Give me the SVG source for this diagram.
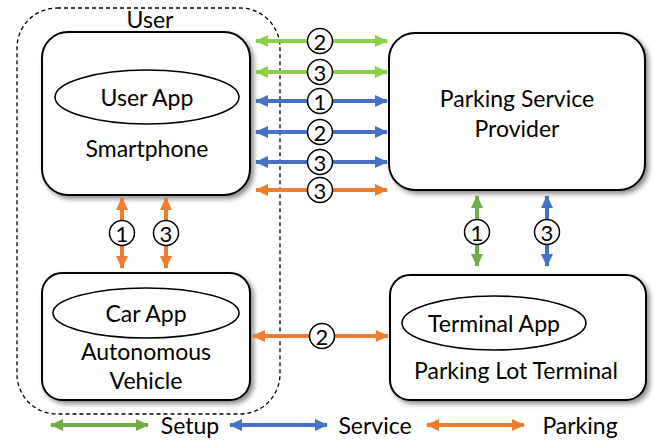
<svg xmlns="http://www.w3.org/2000/svg" width="665" height="440" viewBox="0 0 665 440">
<style>
  text { font-family: Lato, "Liberation Sans", sans-serif; fill: #000; text-anchor: middle; dominant-baseline: central; }
  .t { font-size: 23px; }
  .n { font-size: 22px; }
  .box { fill: #fff; stroke: #000; stroke-width: 2; filter: url(#sh); }
  .ell { fill: #fff; stroke: #000; stroke-width: 1.6; }
  .num { fill: #fff; stroke: #000; stroke-width: 1.5; }
  .g1 { stroke: #8CD04A; stroke-width: 4; fill: none; marker-start: url(#ag1); marker-end: url(#ag1); }
  .g2 { stroke: #70AD47; stroke-width: 4; fill: none; marker-start: url(#ag2); marker-end: url(#ag2); }
  .b { stroke: #4472C4; stroke-width: 4; fill: none; marker-start: url(#ab); marker-end: url(#ab); }
  .o { stroke: #ED7D31; stroke-width: 4; fill: none; marker-start: url(#ao); marker-end: url(#ao); }
</style>
<defs>
  <filter id="sh" x="-10%" y="-10%" width="130%" height="130%">
    <feDropShadow dx="3" dy="3" stdDeviation="2.5" flood-color="#000" flood-opacity="0.45"/>
  </filter>
  <marker id="ag1" markerUnits="userSpaceOnUse" markerWidth="14" markerHeight="12" refX="12" refY="6" orient="auto-start-reverse"><path d="M0,0 L13,6 L0,12 Z" fill="#8CD04A"/></marker>
  <marker id="ag2" markerUnits="userSpaceOnUse" markerWidth="14" markerHeight="12" refX="12" refY="6" orient="auto-start-reverse"><path d="M0,0 L13,6 L0,12 Z" fill="#70AD47"/></marker>
  <marker id="ab" markerUnits="userSpaceOnUse" markerWidth="14" markerHeight="12" refX="12" refY="6" orient="auto-start-reverse"><path d="M0,0 L13,6 L0,12 Z" fill="#4472C4"/></marker>
  <marker id="ao" markerUnits="userSpaceOnUse" markerWidth="14" markerHeight="12" refX="12" refY="6" orient="auto-start-reverse"><path d="M0,0 L13,6 L0,12 Z" fill="#ED7D31"/></marker>
</defs>
<rect width="665" height="440" fill="#fff"/>

<g id="user-group">
  <rect x="17" y="8" width="263" height="406" rx="40" ry="40" fill="none" stroke="#000" stroke-width="1.3" stroke-dasharray="4,3"/>
  <rect x="122" y="9" width="56" height="20" fill="#fff"/>
  <text class="t" x="150" y="19">User</text>
</g>

<g id="smartphone">
  <rect class="box" x="42" y="32" width="208" height="163" rx="26" ry="26"/>
  <ellipse class="ell" cx="147" cy="97" rx="92" ry="27"/>
  <text class="t" x="147" y="97">User App</text>
  <text class="t" x="147" y="148">Smartphone</text>
</g>

<g id="provider">
  <rect class="box" x="389" y="33" width="256" height="157" rx="26" ry="26"/>
  <text class="t" x="517" y="98">Parking Service</text>
  <text class="t" x="517" y="128">Provider</text>
</g>

<g id="vehicle">
  <rect class="box" x="42" y="273" width="208" height="127" rx="20" ry="20"/>
  <ellipse class="ell" cx="146" cy="313" rx="93" ry="25"/>
  <text class="t" x="146" y="313">Car App</text>
  <text class="t" x="146" y="351">Autonomous</text>
  <text class="t" x="146" y="380">Vehicle</text>
</g>

<g id="terminal">
  <rect class="box" x="390" y="275" width="256" height="125" rx="20" ry="20"/>
  <ellipse class="ell" cx="494" cy="323" rx="92" ry="27"/>
  <text class="t" x="494" y="323">Terminal App</text>
  <text class="t" x="516" y="370">Parking Lot Terminal</text>
</g>

<g id="connectors">
  <line class="g1" x1="256" y1="41" x2="387" y2="41"/>
  <line class="g1" x1="256" y1="72" x2="387" y2="72"/>
  <line class="b" x1="256" y1="101" x2="387" y2="101"/>
  <line class="b" x1="256" y1="132" x2="387" y2="132"/>
  <line class="b" x1="256" y1="162" x2="387" y2="162"/>
  <line class="o" x1="256" y1="190" x2="387" y2="190"/>
  <line class="o" x1="122" y1="198" x2="122" y2="268"/>
  <line class="o" x1="166" y1="198" x2="166" y2="268"/>
  <line class="g2" x1="477" y1="196" x2="477" y2="266"/>
  <line class="b" x1="547" y1="196" x2="547" y2="266"/>
  <line class="o" x1="253" y1="336" x2="388" y2="336"/>

  <circle class="num" cx="320" cy="41" r="12.5"/><text class="n" x="320" y="41">2</text>
  <circle class="num" cx="320" cy="72" r="12.5"/><text class="n" x="320" y="72">3</text>
  <circle class="num" cx="320" cy="101" r="12.5"/><text class="n" x="320" y="101">1</text>
  <circle class="num" cx="320" cy="132" r="12.5"/><text class="n" x="320" y="132">2</text>
  <circle class="num" cx="320" cy="162" r="12.5"/><text class="n" x="320" y="162">3</text>
  <circle class="num" cx="320" cy="190" r="12.5"/><text class="n" x="320" y="190">3</text>
  <circle class="num" cx="122" cy="233" r="12.5"/><text class="n" x="122" y="233">1</text>
  <circle class="num" cx="166" cy="233" r="12.5"/><text class="n" x="166" y="233">3</text>
  <circle class="num" cx="477" cy="232" r="12.5"/><text class="n" x="477" y="232">1</text>
  <circle class="num" cx="547" cy="232" r="12.5"/><text class="n" x="547" y="232">3</text>
  <circle class="num" cx="322" cy="336" r="12.5"/><text class="n" x="322" y="336">2</text>
</g>

<g id="legend">
  <line class="g2" x1="51" y1="425" x2="148" y2="425"/>
  <text class="t" x="190" y="425">Setup</text>
  <line class="b" x1="230" y1="425" x2="327" y2="425"/>
  <text class="t" x="375" y="425">Service</text>
  <line class="o" x1="427" y1="425" x2="524" y2="425"/>
  <text class="t" x="580" y="425">Parking</text>
</g>
</svg>
